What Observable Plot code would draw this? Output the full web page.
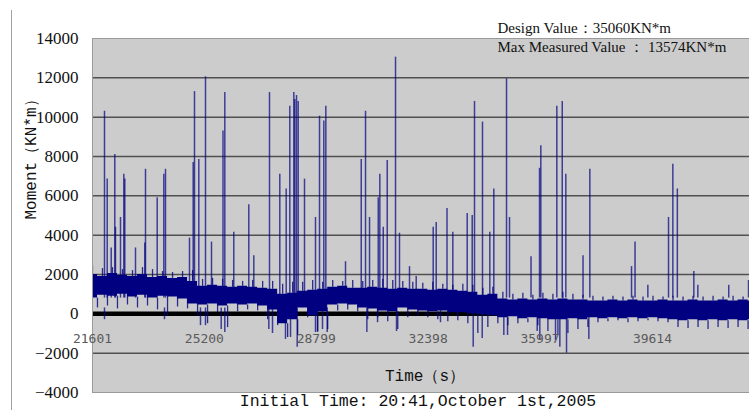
<!DOCTYPE html>
<html>
<head>
<meta charset="utf-8">
<script src="https://cdn.jsdelivr.net/npm/d3@7"></script>
<script src="https://cdn.jsdelivr.net/npm/@observablehq/plot@0.6"></script>
<style>
  html, body { margin: 0; padding: 0; background: #fff; }
  #wrap { position: relative; width: 749px; height: 410px; overflow: hidden; }
  #leftline { position: absolute; left: 11px; top: 10px; width: 0; height: 400px; border-left: 1px solid #a0a0a0; }
  #chart svg { display: block; }
</style>
</head>
<body>
<div id="wrap"><div id="leftline"></div><div id="chart"></div></div>
<script>
// ---- data ----
const xTicks = [21601, 25200, 28799, 32398, 35997, 39614];
const yTicks = [-4000, -2000, 0, 2000, 4000, 6000, 8000, 10000, 12000, 14000];
const gridTicks = [-2000, 0, 2000, 4000, 6000, 8000, 10000, 12000];

// dense background signal band (time in s, moment in KN*m)
const bandT = [21600, 21922, 22244, 22566, 22888, 23210, 23532, 23854, 24176, 24498,
  24820, 25142, 25464, 25786, 26108, 26430, 26752, 27074, 27396, 27718,
  28040, 28362, 28684, 29006, 29328, 29650, 29972, 30294, 30616, 30938,
  31260, 31582, 31904, 32226, 32548, 32870, 33192, 33514, 33836, 34158,
  34480, 34802, 35124, 35446, 35768, 36090, 36412, 36734, 37056, 37378,
  37700, 38022, 38344, 38666, 38988, 39310, 39632, 39954, 40276, 40598,
  40920, 41242, 41564, 41886, 42208, 42530, 42852];
const coreHi = [2000, 1900, 2050, 1950, 1900, 2000, 1850, 1900, 1800, 1850,
  1650, 1400, 1450, 1400, 1350, 1400, 1350, 1300, 1250, 1000,
  1050, 1150, 1200, 1250, 1350, 1400, 1300, 1300, 1350, 1300,
  1250, 1300, 1250, 1250, 1200, 1250, 1200, 1150, 1100, 950,
  1000, 750, 700, 750, 700, 750, 700, 750, 700, 700,
  650, 650, 700, 650, 700, 650, 650, 700, 650, 650,
  700, 650, 650, 700, 650, 700, 650];
const coreLo = [800, 950, 900, 1000, 850, 950, 800, 900, 850, 750,
  500, 450, 500, 400, 500, 450, 500, 400, 200, -500,
  -300, 300, -100, 100, 450, 500, 450, 300, 250, 150,
  100, 300, 200, 150, 100, 150, 50, 50, 0, -50,
  -100, -200, -150, -250, -200, -250, -300, -300, -250, -300,
  -200, -250, -200, -250, -200, -250, -200, -250, -300, -350,
  -300, -350, -300, -350, -300, -350, -300];
const outerHi = [2450, 2300, 2350, 2250, 2200, 2350, 2250, 2150, 2100, 2150,
  2200, 1750, 1800, 1750, 1700, 1650, 1700, 1650, 1650, 1500,
  1600, 1600, 1700, 1600, 1700, 1650, 1700, 1650, 1700, 1750,
  1700, 1650, 1600, 1550, 1600, 1500, 1450, 1500, 1450, 1300,
  1350, 1100, 1000, 1050, 950, 1050, 1000, 1100, 1000, 950,
  900, 850, 900, 850, 900, 850, 900, 850, 900, 850,
  900, 850, 900, 850, 900, 850, 850];
const outerLo = [300, 400, 250, 450, 300, 400, 200, -100, 350, 250,
  -100, -500, 50, -700, 100, 200, 150, -300, -600, -1200,
  -1100, -200, -900, -800, 150, 200, 100, -300, -200, -400,
  -800, -200, -100, -200, -300, -400, -350, -500, -1000, -700,
  -500, -600, -500, -450, -600, -900, -1100, -1000, -800, -700,
  -450, -400, -350, -450, -400, -350, -400, -450, -700, -750,
  -700, -800, -700, -750, -700, -800, -700];

// isolated positive peaks
const peakT = [21987, 22074, 22203, 22318, 22341, 22502, 22608, 22640, 22984, 23284,
  23306, 23682, 23895, 23949, 24721, 24840, 24882, 25021, 25236, 25429,
  25799, 25857, 26146, 26629, 26790, 27295, 27626, 27832, 27948, 28077,
  28109, 28164, 28218, 28421, 28775, 28904, 29042, 29107, 29740, 30246,
  30384, 30513, 30793, 30844, 30954, 31082, 31349, 31477, 31799, 32014,
  32561, 32658, 33005, 33192, 33655, 33816, 33890, 34147, 34382, 34511,
  34920, 35016, 35708, 35981, 36023, 36538, 36712, 36827, 37381, 37600,
  38941, 39054, 39466, 40131, 40270, 40415, 40945, 41074, 42068, 42705];
const peakV = [10300, 6850, 3350, 8100, 4400, 4900, 7100, 6850, 3350, 3600,
  7350, 5900, 7100, 7350, 3850, 7700, 11300, 7850, 12050, 3650,
  9300, 11250, 4150, 5550, 2950, 11250, 7100, 6350, 10550, 11250,
  10900, 11100, 10800, 6850, 4900, 10050, 9800, 10550, 2650, 7850,
  10300, 4900, 5900, 7100, 4400, 7800, 13050, 4100, 2400, 1900,
  4400, 4650, 5350, 4150, 5100, 5000, 10800, 9750, 4150, 6350,
  11950, 4900, 2900, 7400, 8550, 10550, 10800, 7100, 2950, 7350,
  2400, 3650, 1450, 4900, 7600, 6350, 2150, 1450, 1450, 1700];

// isolated negative dips
const dipT = [21987, 23917, 25075, 25236, 25741, 25857, 27273, 27392, 27810, 27971,
  28186, 28775, 28839, 29000, 29151, 30427, 30771, 31381, 32796, 33848,
  34138, 34833, 34952, 35907, 35991, 36496, 36635, 36850, 37568];
const dipV = [-300, -300, -600, -600, -800, -950, -800, -1000, -1300, -1200,
  -1700, -950, -950, -800, -950, -950, -450, -900, -450, -1700,
  -1250, -1100, -1100, -900, -1300, -1350, -1700, -2000, -1300];

// ---- tables built from the arrays ----
const band = bandT.map((t, i) => ({t, lo: coreLo[i], hi: coreHi[i], ohi: outerHi[i], olo: outerLo[i]}));
const peaks = peakT.map((t, i) => ({t, v: peakV[i]}));
const dips = dipT.map((t, i) => ({t, v: dipV[i]}));

const navy = "#000080";
const mono = "Liberation Mono, DejaVu Sans Mono, monospace";
const serif = "Liberation Serif, Times New Roman, serif";

const chart = Plot.plot({
  width: 749,
  height: 410,
  marginLeft: 92,
  marginRight: 0,
  marginTop: 38,
  marginBottom: 18,
  style: {background: "transparent", overflow: "visible"},
  x: {domain: [21601, 42736], axis: null},
  y: {domain: [-4000, 14000]},
  marks: [
    Plot.frame({fill: "#cccccc", stroke: null}),
    Plot.gridY(gridTicks, {stroke: "#505050", strokeOpacity: 1, strokeWidth: 1.5}),
    Plot.ruleY([0], {stroke: "#000", strokeWidth: 4.5}),
    Plot.ruleX(peaks, {x: "t", y1: 800, y2: "v", stroke: navy, strokeOpacity: 0.7, strokeWidth: 1.5, clip: true}),
    Plot.ruleX(dips, {x: "t", y1: 300, y2: "v", stroke: navy, strokeOpacity: 0.7, strokeWidth: 1.5, clip: true}),
    // ragged upper and lower fringes of the noise band
    Plot.ruleX(band, {x: "t", y1: "hi", y2: "ohi", stroke: navy, strokeOpacity: 0.8, strokeWidth: 1.3, clip: true}),
    Plot.ruleX(band, {x: "t", dx: 5, y1: "olo", y2: "lo", stroke: navy, strokeOpacity: 0.8, strokeWidth: 1.3, clip: true}),
    Plot.areaY(band, {x: "t", y1: "lo", y2: "hi", curve: "step", fill: navy, clip: true}),
    Plot.frame({stroke: "#9a9a9a", strokeWidth: 1}),
    Plot.axisY(yTicks, {tickSize: 0, tickPadding: 14, tickFormat: d3.format("d"),
      fontFamily: serif, fontSize: 17, fill: "#111"}),
    Plot.text(xTicks, {x: d => d, frameAnchor: "bottom", dy: -54, lineAnchor: "middle",
      text: d => String(d), fontFamily: "DejaVu Sans Mono, monospace", fontSize: 13, fill: "#5a5a5a"}),
    Plot.text(["Time（s）"], {frameAnchor: "bottom", dx: 4, dy: -17, lineAnchor: "middle",
      fontFamily: mono, fontSize: 16, fill: "#111"}),
    Plot.text(["Initial Time: 20:41,October 1st,2005"], {frameAnchor: "bottom", dx: -3, dy: 8, lineAnchor: "middle",
      fontFamily: mono, fontSize: 16.5, fill: "#111"}),
    Plot.text(["Moment（KN*m）"], {frameAnchor: "left", dx: -62, dy: 4, rotate: -90, lineAnchor: "middle",
      fontFamily: mono, fontSize: 16, fill: "#111"}),
    Plot.text(["Design Value：35060KN*m"], {frameAnchor: "top-left", dx: 405, dy: -10, textAnchor: "start",
      lineAnchor: "middle", fontFamily: serif, fontSize: 15, fill: "#111"}),
    Plot.text(["Max Measured Value ： 13574KN*m"], {frameAnchor: "top-left", dx: 405, dy: 9, textAnchor: "start",
      lineAnchor: "middle", fontFamily: serif, fontSize: 15, fill: "#111"})
  ]
});
document.getElementById("chart").appendChild(chart);
</script>
</body>
</html>
